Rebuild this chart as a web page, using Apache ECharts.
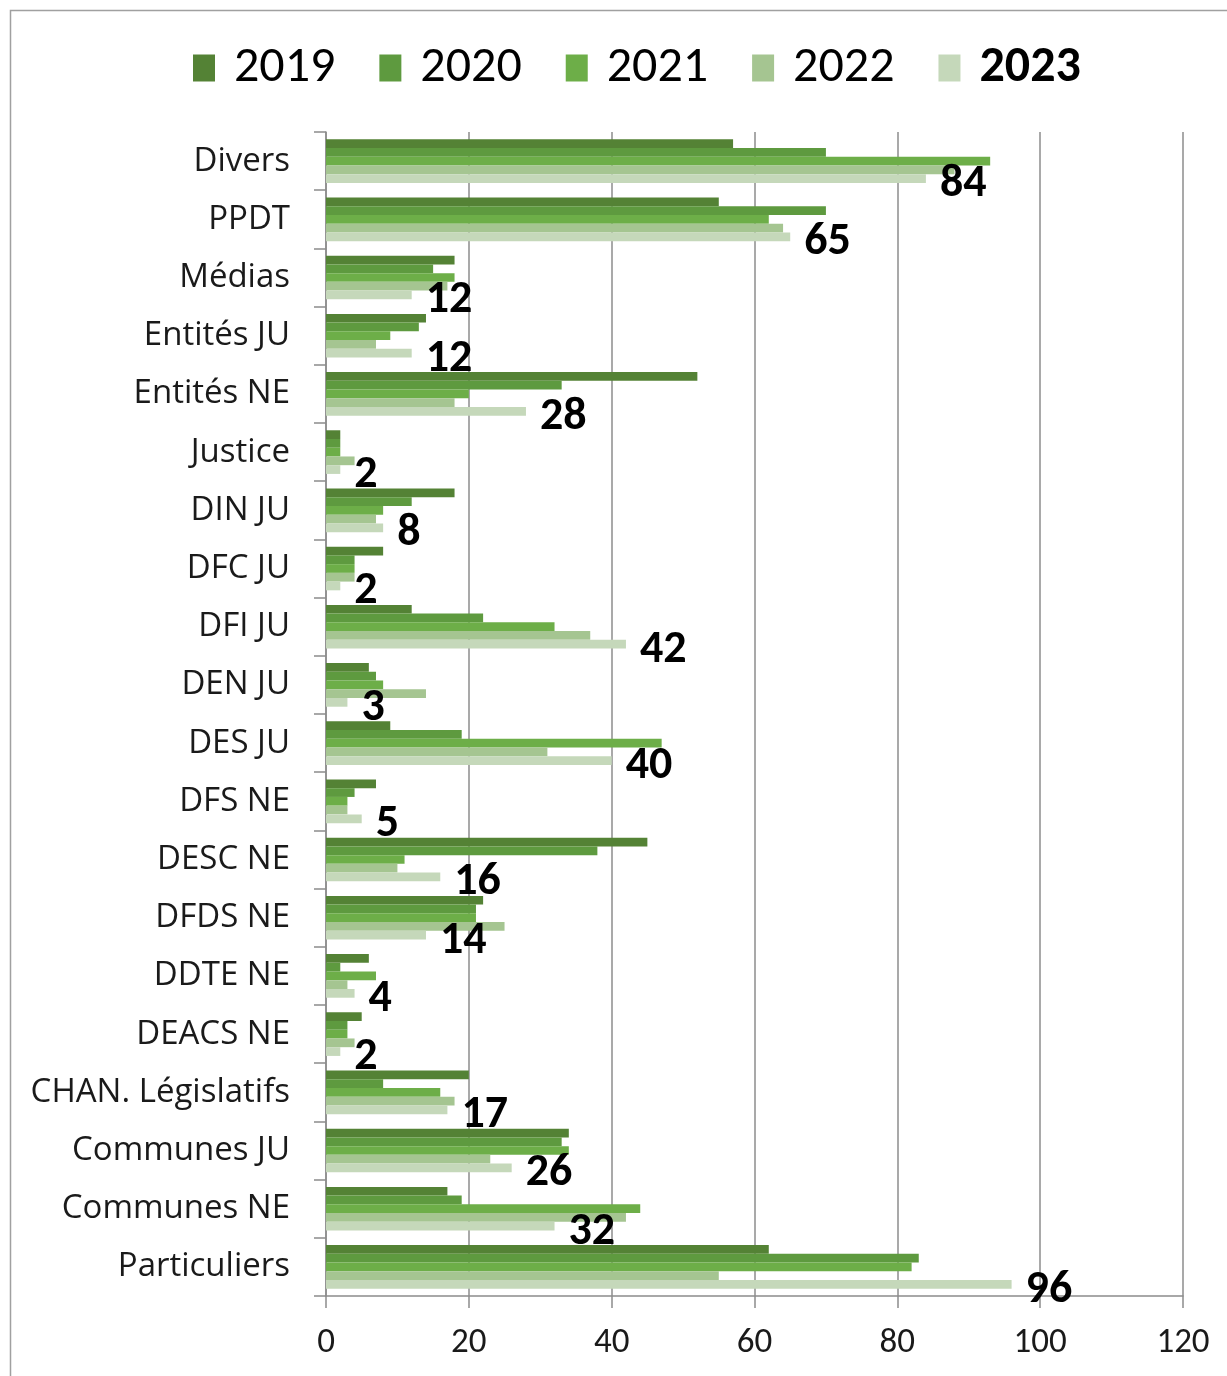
<!DOCTYPE html>
<html>
<head>
<meta charset="utf-8">
<script src="https://cdn.jsdelivr.net/npm/echarts@6/dist/echarts.min.js"></script>
<style>
html,body{margin:0;padding:0;background:#fff;}
#chart{width:1227px;height:1376px;}
</style>
</head>
<body>
<div id="chart"></div>
<script>
const categories = ['Divers','PPDT','Médias','Entités JU','Entités NE','Justice','DIN JU','DFC JU','DFI JU','DEN JU','DES JU','DFS NE','DESC NE','DFDS NE','DDTE NE','DEACS NE','CHAN. Législatifs','Communes JU','Communes NE','Particuliers'];
const years = ['2019','2020','2021','2022','2023'];
const v2019 = [57,55,18,14,52,2,18,8,12,6,9,7,45,22,6,5,20,34,17,62];
const v2020 = [70,70,15,13,33,2,12,4,22,7,19,4,38,21,2,3,8,33,19,83];
const v2021 = [93,62,18,9,20,2,8,4,32,8,47,3,11,21,7,3,16,34,44,82];
const v2022 = [88,64,17,7,18,4,7,4,37,14,31,3,10,25,3,4,18,23,42,55];
const v2023 = [84,65,12,12,28,2,8,2,42,3,40,5,16,14,4,2,17,26,32,96];
const xTicks = [0,20,40,60,80,100,120];
const colors = ['#548235','#5E9A3F','#6DAE48','#A5C591','#C5D8BA'];

const allValues = [v2019,v2020,v2021,v2022,v2023];
const FONT = 'Carlito, Lato, sans-serif';
const CATFONT = '"Open Sans", sans-serif';

const chart = echarts.init(document.getElementById('chart'), null, {renderer:'canvas'});
const series = years.map((y,i)=>({
  name: y,
  type: 'bar',
  data: allValues[i],
  barGap: '0%',
  barCategoryGap: '25%',
  itemStyle: {color: colors[i]},
  label: i === 4 ? {
    show: true,
    position: 'right',
    distance: 14,
    offset: [0, 6],
    color: '#000',
    fontFamily: FONT,
    fontWeight: 'bold',
    fontSize: 46
  } : {show:false}
}));

chart.setOption({
  animation: false,
  backgroundColor: '#fff',
  color: colors,
  graphic: [{
    type: 'rect',
    shape: {x: 10.5, y: 10.5, width: 1240, height: 1400},
    style: {fill: 'none', stroke: '#a0a0a0', lineWidth: 1.5},
    silent: true
  }],
  legend: {
    left: 188,
    top: 38,
    itemWidth: 22,
    itemHeight: 27,
    itemGap: 44,
    icon: 'rect',
    data: years,
    formatter: n => n === '2023' ? '{b|' + n + '}' : n,
    textStyle: {
      fontFamily: FONT,
      fontSize: 50,
      color: '#000',
      padding: [0,0,0,14],
      rich: {b: {fontFamily: FONT, fontSize: 50, fontWeight: 'bold', color: '#000'}}
    }
  },
  grid: {left: 326, right: 44, top: 132, bottom: 80, containLabel: false},
  xAxis: {
    type: 'value',
    min: 0, max: 120, interval: 20,
    axisLine: {show: true, lineStyle: {color: '#8c8c8c', width: 1.5}},
    axisTick: {show: true, length: 12, lineStyle: {color: '#8c8c8c', width: 1.5}},
    splitLine: {show: true, lineStyle: {color: '#8c8c8c', width: 1.5}},
    axisLabel: {
      margin: 30,
      fontFamily: FONT, fontSize: 35, color: '#1a1a1a',
      formatter: v => xTicks.includes(v) ? String(v) : ''
    }
  },
  yAxis: {
    type: 'category',
    data: categories,
    inverse: true,
    axisLine: {show: true, lineStyle: {color: '#8c8c8c', width: 1.5}},
    axisTick: {show: true, length: 12, lineStyle: {color: '#8c8c8c', width: 1.5}},
    axisLabel: {margin: 36, fontFamily: CATFONT, fontSize: 33, color: '#1a1a1a'}
  },
  series: series
});
</script>
</body>
</html>
